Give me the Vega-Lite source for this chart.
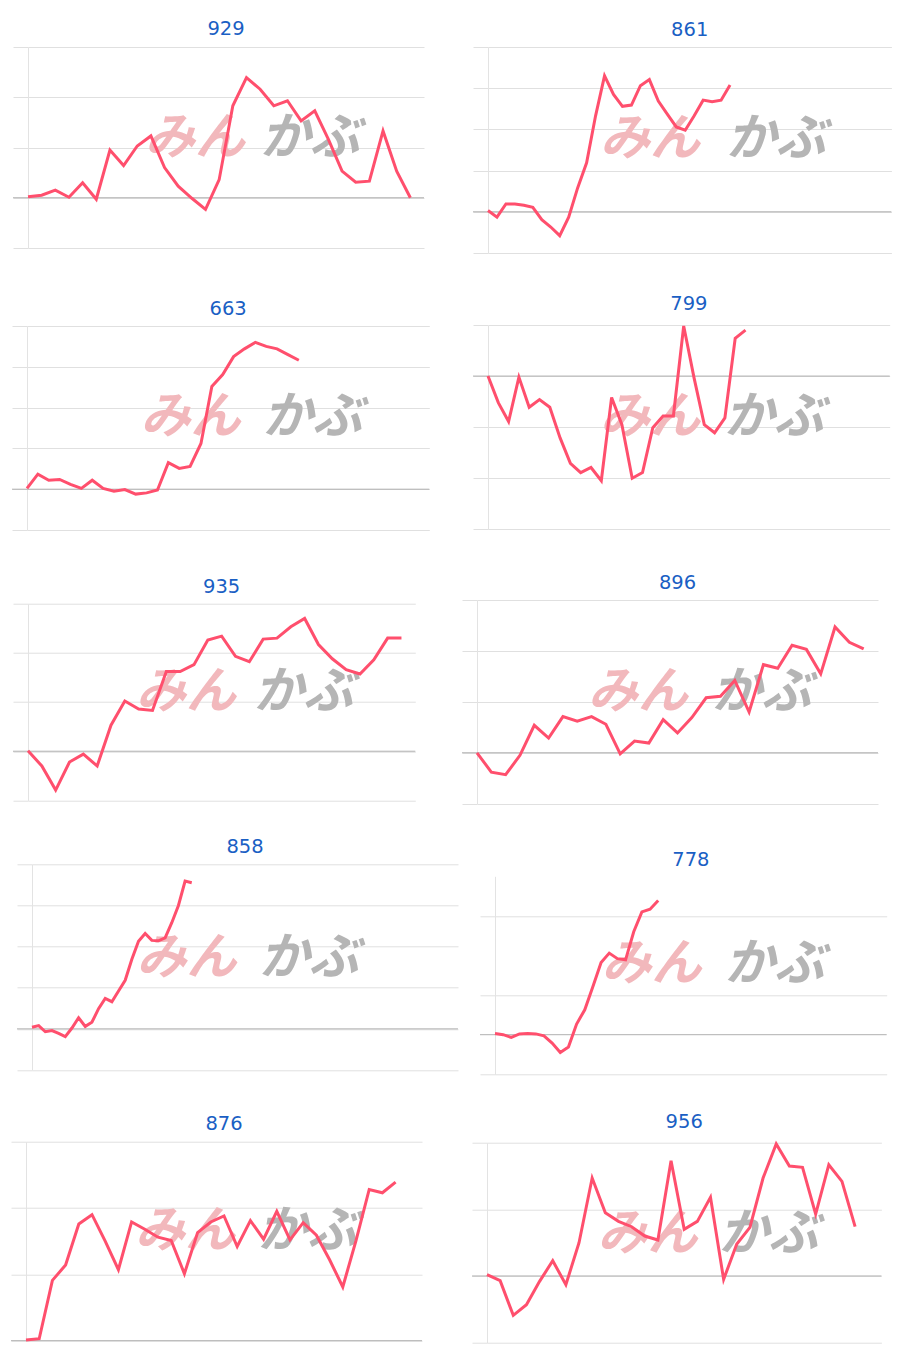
{
  "$schema": "https://vega.github.io/schema/vega-lite/v6.json",
  "padding": {"left": 9, "top": 19, "right": 0, "bottom": 0},
  "spacing": 1,
  "config": {
    "view": {"stroke": null},
    "title": {"font": "DejaVu Sans", "fontSize": 19.5, "fontWeight": "normal", "color": "#1a5fc4", "anchor": "middle", "frame": "group", "baseline": "bottom"},
    "line": {"stroke": "#ff4f6d", "strokeWidth": 3},
    "rule": {"stroke": "#b0b0b0", "strokeWidth": 1},
    "text": {"font": "Noto Sans CJK JP", "fontSize": 50, "fontWeight": "bold", "fontStyle": "italic", "align": "center", "baseline": "middle"},
    "axisY": {"title": null, "labels": false, "tickSize": 15, "domainColor": "#e3e3e3", "tickColor": "#e0e0e0", "gridColor": "#e0e0e0"}
  },
  "datasets": {
    "s929": [{"t":0,"v":0.02},{"t":1,"v":0.05},{"t":2,"v":0.15},{"t":3,"v":0.01},{"t":4,"v":0.30},{"t":5,"v":-0.03},{"t":6,"v":0.95},{"t":7,"v":0.64},{"t":8,"v":1.03},{"t":9,"v":1.23},{"t":10,"v":0.60},{"t":11,"v":0.23},{"t":12,"v":-0.01},{"t":13,"v":-0.23},{"t":14,"v":0.36},{"t":15,"v":1.83},{"t":16,"v":2.39},{"t":17,"v":2.16},{"t":18,"v":1.83},{"t":19,"v":1.93},{"t":20,"v":1.53},{"t":21,"v":1.73},{"t":22,"v":1.16},{"t":23,"v":0.53},{"t":24,"v":0.31},{"t":25,"v":0.33},{"t":26,"v":1.33},{"t":27,"v":0.53},{"t":28,"v":0.0}],
    "s861": [{"t":0,"v":0.03},{"t":1,"v":-0.13},{"t":2,"v":0.19},{"t":3,"v":0.19},{"t":4,"v":0.16},{"t":5,"v":0.11},{"t":6,"v":-0.19},{"t":7,"v":-0.37},{"t":8,"v":-0.58},{"t":9,"v":-0.13},{"t":10,"v":0.58},{"t":11,"v":1.19},{"t":12,"v":2.33},{"t":13,"v":3.30},{"t":14,"v":2.85},{"t":15,"v":2.56},{"t":16,"v":2.59},{"t":17,"v":3.06},{"t":18,"v":3.21},{"t":19,"v":2.69},{"t":20,"v":2.37},{"t":21,"v":2.06},{"t":22,"v":1.98},{"t":23,"v":2.33},{"t":24,"v":2.71},{"t":25,"v":2.67},{"t":26,"v":2.71},{"t":27,"v":3.08}],
    "s663": [{"t":0,"v":0.02},{"t":1,"v":0.37},{"t":2,"v":0.22},{"t":3,"v":0.24},{"t":4,"v":0.12},{"t":5,"v":0.02},{"t":6,"v":0.22},{"t":7,"v":0.02},{"t":8,"v":-0.05},{"t":9,"v":-0.01},{"t":10,"v":-0.12},{"t":11,"v":-0.09},{"t":12,"v":-0.02},{"t":13,"v":0.65},{"t":14,"v":0.51},{"t":15,"v":0.56},{"t":16,"v":1.12},{"t":17,"v":2.52},{"t":18,"v":2.81},{"t":19,"v":3.25},{"t":20,"v":3.44},{"t":21,"v":3.60},{"t":22,"v":3.50},{"t":23,"v":3.44},{"t":24,"v":3.30},{"t":25,"v":3.16}],
    "s799": [{"t":0,"v":0.0},{"t":1,"v":-0.52},{"t":2,"v":-0.89},{"t":3,"v":-0.02},{"t":4,"v":-0.61},{"t":5,"v":-0.46},{"t":6,"v":-0.61},{"t":7,"v":-1.21},{"t":8,"v":-1.71},{"t":9,"v":-1.89},{"t":10,"v":-1.79},{"t":11,"v":-2.05},{"t":12,"v":-0.42},{"t":13,"v":-0.95},{"t":14,"v":-2.00},{"t":15,"v":-1.89},{"t":16,"v":-1.01},{"t":17,"v":-0.78},{"t":18,"v":-0.78},{"t":19,"v":0.98},{"t":20,"v":-0.03},{"t":21,"v":-0.95},{"t":22,"v":-1.11},{"t":23,"v":-0.82},{"t":24,"v":0.74},{"t":25,"v":0.90}],
    "s935": [{"t":0,"v":0.01},{"t":1,"v":-0.30},{"t":2,"v":-0.79},{"t":3,"v":-0.22},{"t":4,"v":-0.06},{"t":5,"v":-0.30},{"t":6,"v":0.53},{"t":7,"v":1.02},{"t":8,"v":0.86},{"t":9,"v":0.83},{"t":10,"v":1.62},{"t":11,"v":1.62},{"t":12,"v":1.76},{"t":13,"v":2.26},{"t":14,"v":2.34},{"t":15,"v":1.93},{"t":16,"v":1.82},{"t":17,"v":2.28},{"t":18,"v":2.30},{"t":19,"v":2.53},{"t":20,"v":2.70},{"t":21,"v":2.17},{"t":22,"v":1.88},{"t":23,"v":1.66},{"t":24,"v":1.57},{"t":25,"v":1.86},{"t":26,"v":2.30},{"t":27,"v":2.30}],
    "s896": [{"t":0,"v":0.0},{"t":1,"v":-0.38},{"t":2,"v":-0.43},{"t":3,"v":-0.05},{"t":4,"v":0.54},{"t":5,"v":0.29},{"t":6,"v":0.71},{"t":7,"v":0.62},{"t":8,"v":0.71},{"t":9,"v":0.56},{"t":10,"v":-0.02},{"t":11,"v":0.23},{"t":12,"v":0.19},{"t":13,"v":0.65},{"t":14,"v":0.39},{"t":15,"v":0.69},{"t":16,"v":1.08},{"t":17,"v":1.11},{"t":18,"v":1.42},{"t":19,"v":0.80},{"t":20,"v":1.73},{"t":21,"v":1.66},{"t":22,"v":2.11},{"t":23,"v":2.03},{"t":24,"v":1.55},{"t":25,"v":2.47},{"t":26,"v":2.17},{"t":27,"v":2.04}],
    "s858": [{"t":0,"v":0.04},{"t":1,"v":0.08},{"t":2,"v":-0.07},{"t":3,"v":-0.04},{"t":4,"v":-0.11},{"t":5,"v":-0.19},{"t":6,"v":0.02},{"t":7,"v":0.27},{"t":8,"v":0.06},{"t":9,"v":0.16},{"t":10,"v":0.49},{"t":11,"v":0.74},{"t":12,"v":0.66},{"t":13,"v":0.92},{"t":14,"v":1.18},{"t":15,"v":1.69},{"t":16,"v":2.13},{"t":17,"v":2.32},{"t":18,"v":2.15},{"t":19,"v":2.14},{"t":20,"v":2.21},{"t":21,"v":2.58},{"t":22,"v":3.00},{"t":23,"v":3.59},{"t":24,"v":3.55}],
    "s778": [{"t":0,"v":0.03},{"t":1,"v":0.0},{"t":2,"v":-0.07},{"t":3,"v":0.02},{"t":4,"v":0.03},{"t":5,"v":0.02},{"t":6,"v":-0.03},{"t":7,"v":-0.21},{"t":8,"v":-0.45},{"t":9,"v":-0.31},{"t":10,"v":0.27},{"t":11,"v":0.63},{"t":12,"v":1.22},{"t":13,"v":1.82},{"t":14,"v":2.06},{"t":15,"v":1.92},{"t":16,"v":1.89},{"t":17,"v":2.6},{"t":18,"v":3.10},{"t":19,"v":3.17},{"t":20,"v":3.39}],
    "s876": [{"t":0,"v":0.01},{"t":1,"v":0.03},{"t":2,"v":0.91},{"t":3,"v":1.14},{"t":4,"v":1.76},{"t":5,"v":1.90},{"t":6,"v":1.50},{"t":7,"v":1.07},{"t":8,"v":1.79},{"t":9,"v":1.68},{"t":10,"v":1.56},{"t":11,"v":1.51},{"t":12,"v":1.01},{"t":13,"v":1.63},{"t":14,"v":1.79},{"t":15,"v":1.88},{"t":16,"v":1.42},{"t":17,"v":1.81},{"t":18,"v":1.53},{"t":19,"v":1.95},{"t":20,"v":1.52},{"t":21,"v":1.78},{"t":22,"v":1.59},{"t":23,"v":1.22},{"t":24,"v":0.81},{"t":25,"v":1.51},{"t":26,"v":2.28},{"t":27,"v":2.23},{"t":28,"v":2.39}],
    "s956": [{"t":0,"v":0.02},{"t":1,"v":-0.07},{"t":2,"v":-0.59},{"t":3,"v":-0.43},{"t":4,"v":-0.08},{"t":5,"v":0.23},{"t":6,"v":-0.13},{"t":7,"v":0.50},{"t":8,"v":1.47},{"t":9,"v":0.95},{"t":10,"v":0.82},{"t":11,"v":0.74},{"t":12,"v":0.60},{"t":13,"v":0.54},{"t":14,"v":1.73},{"t":15,"v":0.70},{"t":16,"v":0.82},{"t":17,"v":1.18},{"t":18,"v":-0.05},{"t":19,"v":0.48},{"t":20,"v":0.73},{"t":21,"v":1.47},{"t":22,"v":1.98},{"t":23,"v":1.65},{"t":24,"v":1.63},{"t":25,"v":0.93},{"t":26,"v":1.67},{"t":27,"v":1.42},{"t":28,"v":0.74}]
  },
  "hconcat": [
    {
      "spacing": 50,
      "vconcat": [
        {"spacing": 0, "hconcat": [
          {"width": 3, "height": 1, "data": {"values": []}, "mark": {"type": "rect"}, "encoding": {}},
          {"width": 396, "height": 201, "title": {"text": "929", "offset": 7}, "layer": [
            {"data": {"name": "s929"}, "mark": {"type": "line", "opacity": 0}, "encoding": {
              "x": {"field": "t", "type": "quantitative", "scale": {"domain": [0, 29], "nice": false, "zero": false}, "axis": null},
              "y": {"field": "v", "type": "quantitative", "scale": {"domain": [-1, 3], "nice": false, "zero": false}, "axis": {"values": [-1, 0, 1, 2, 3]}}}},
            {"data": {"values": [{"ref": "baseline"}]}, "mark": {"type": "rule"}, "encoding": {"x": {"datum": -1.098, "type": "quantitative"}, "x2": {"datum": 29}, "y": {"datum": 0, "type": "quantitative"}}},
            {"data": {"values": [{"logo": "みん"}]}, "mark": {"type": "text", "color": "#f2b8bc"}, "encoding": {"x": {"datum": 12.23, "type": "quantitative"}, "y": {"datum": 1.17, "type": "quantitative"}, "text": {"field": "logo", "type": "nominal"}}},
            {"data": {"values": [{"logo": "かぶ"}]}, "mark": {"type": "text", "color": "#b5b5b5"}, "encoding": {"x": {"datum": 20.65, "type": "quantitative"}, "y": {"datum": 1.17, "type": "quantitative"}, "text": {"field": "logo", "type": "nominal"}}},
            {"data": {"name": "s929"}, "mark": {"type": "line"}, "encoding": {"x": {"field": "t", "type": "quantitative"}, "y": {"field": "v", "type": "quantitative"}}}
          ]}
        ]},
        {"spacing": 45.7, "vconcat": [
          {"spacing": 0, "hconcat": [
            {"width": 2, "height": 1, "data": {"values": []}, "mark": {"type": "rect"}, "encoding": {}},
            {"width": 402.3, "height": 204, "title": {"text": "663", "offset": 6}, "layer": [
              {"data": {"name": "s663"}, "mark": {"type": "line", "opacity": 0}, "encoding": {
                "x": {"field": "t", "type": "quantitative", "scale": {"domain": [0, 37], "nice": false, "zero": false}, "axis": null},
                "y": {"field": "v", "type": "quantitative", "scale": {"domain": [-1, 4], "nice": false, "zero": false}, "axis": {"values": [-1, 0, 1, 2, 3, 4]}}}},
              {"data": {"values": [{"ref": "baseline"}]}, "mark": {"type": "rule"}, "encoding": {"x": {"datum": -1.380, "type": "quantitative"}, "x2": {"datum": 37}, "y": {"datum": 0, "type": "quantitative"}}},
              {"data": {"values": [{"logo": "みん"}]}, "mark": {"type": "text", "color": "#f2b8bc"}, "encoding": {"x": {"datum": 15.04, "type": "quantitative"}, "y": {"datum": 1.74, "type": "quantitative"}, "text": {"field": "logo", "type": "nominal"}}},
              {"data": {"values": [{"logo": "かぶ"}]}, "mark": {"type": "text", "color": "#b5b5b5"}, "encoding": {"x": {"datum": 26.26, "type": "quantitative"}, "y": {"datum": 1.74, "type": "quantitative"}, "text": {"field": "logo", "type": "nominal"}}},
              {"data": {"name": "s663"}, "mark": {"type": "line"}, "encoding": {"x": {"field": "t", "type": "quantitative"}, "y": {"field": "v", "type": "quantitative"}}}
            ]}
          ]},
          {"spacing": 35.6, "vconcat": [
            {"spacing": 0, "hconcat": [
              {"width": 3, "height": 1, "data": {"values": []}, "mark": {"type": "rect"}, "encoding": {}},
              {"width": 387.3, "height": 196.7, "title": {"text": "935", "offset": 6}, "layer": [
                {"data": {"name": "s935"}, "mark": {"type": "line", "opacity": 0}, "encoding": {
                  "x": {"field": "t", "type": "quantitative", "scale": {"domain": [0, 28], "nice": false, "zero": false}, "axis": null},
                  "y": {"field": "v", "type": "quantitative", "scale": {"domain": [-1, 3], "nice": false, "zero": false}, "axis": {"values": [-1, 0, 1, 2, 3]}}}},
                {"data": {"values": [{"ref": "baseline"}]}, "mark": {"type": "rule"}, "encoding": {"x": {"datum": -1.084, "type": "quantitative"}, "x2": {"datum": 28}, "y": {"datum": 0, "type": "quantitative"}}},
                {"data": {"values": [{"logo": "みん"}]}, "mark": {"type": "text", "color": "#f2b8bc"}, "encoding": {"x": {"datum": 11.42, "type": "quantitative"}, "y": {"datum": 1.18, "type": "quantitative"}, "text": {"field": "logo", "type": "nominal"}}},
                {"data": {"values": [{"logo": "かぶ"}]}, "mark": {"type": "text", "color": "#b5b5b5"}, "encoding": {"x": {"datum": 19.92, "type": "quantitative"}, "y": {"datum": 1.18, "type": "quantitative"}, "text": {"field": "logo", "type": "nominal"}}},
                {"data": {"name": "s935"}, "mark": {"type": "line"}, "encoding": {"x": {"field": "t", "type": "quantitative"}, "y": {"field": "v", "type": "quantitative"}}}
              ]}
            ]},
            {"spacing": 42.4, "vconcat": [
              {"spacing": 0, "hconcat": [
                {"width": 7, "height": 1, "data": {"values": []}, "mark": {"type": "rect"}, "encoding": {}},
                {"width": 426, "height": 205.7, "title": {"text": "858", "offset": 6}, "layer": [
                  {"data": {"name": "s858"}, "mark": {"type": "line", "opacity": 0}, "encoding": {
                    "x": {"field": "t", "type": "quantitative", "scale": {"domain": [0, 64], "nice": false, "zero": false}, "axis": null},
                    "y": {"field": "v", "type": "quantitative", "scale": {"domain": [-1, 4], "nice": false, "zero": false}, "axis": {"values": [-1, 0, 1, 2, 3, 4]}}}},
                  {"data": {"values": [{"ref": "baseline"}]}, "mark": {"type": "rule"}, "encoding": {"x": {"datum": -2.254, "type": "quantitative"}, "x2": {"datum": 64}, "y": {"datum": 0, "type": "quantitative"}}},
                  {"data": {"values": [{"logo": "みん"}]}, "mark": {"type": "text", "color": "#f2b8bc"}, "encoding": {"x": {"datum": 23.2, "type": "quantitative"}, "y": {"datum": 1.70, "type": "quantitative"}, "text": {"field": "logo", "type": "nominal"}}},
                  {"data": {"values": [{"logo": "かぶ"}]}, "mark": {"type": "text", "color": "#b5b5b5"}, "encoding": {"x": {"datum": 41.6, "type": "quantitative"}, "y": {"datum": 1.70, "type": "quantitative"}, "text": {"field": "logo", "type": "nominal"}}},
                  {"data": {"name": "s858"}, "mark": {"type": "line"}, "encoding": {"x": {"field": "t", "type": "quantitative"}, "y": {"field": "v", "type": "quantitative"}}}
                ]}
              ]},
              {"spacing": 0, "hconcat": [
                {"width": 1, "height": 1, "data": {"values": []}, "mark": {"type": "rect"}, "encoding": {}},
                {"width": 396, "height": 199, "title": {"text": "876", "offset": 7}, "layer": [
                  {"data": {"name": "s876"}, "mark": {"type": "line", "opacity": 0}, "encoding": {
                    "x": {"field": "t", "type": "quantitative", "scale": {"domain": [0, 30], "nice": false, "zero": false}, "axis": null},
                    "y": {"field": "v", "type": "quantitative", "scale": {"domain": [0, 3], "nice": false, "zero": false}, "axis": {"values": [0, 1, 2, 3]}}}},
                  {"data": {"values": [{"ref": "baseline"}]}, "mark": {"type": "rule"}, "encoding": {"x": {"datum": -1.136, "type": "quantitative"}, "x2": {"datum": 30}, "y": {"datum": 0, "type": "quantitative"}}},
                  {"data": {"values": [{"logo": "みん"}]}, "mark": {"type": "text", "color": "#f2b8bc"}, "encoding": {"x": {"datum": 12.05, "type": "quantitative"}, "y": {"datum": 1.64, "type": "quantitative"}, "text": {"field": "logo", "type": "nominal"}}},
                  {"data": {"values": [{"logo": "かぶ"}]}, "mark": {"type": "text", "color": "#b5b5b5"}, "encoding": {"x": {"datum": 21.33, "type": "quantitative"}, "y": {"datum": 1.64, "type": "quantitative"}, "text": {"field": "logo", "type": "nominal"}}},
                  {"data": {"name": "s876"}, "mark": {"type": "line"}, "encoding": {"x": {"field": "t", "type": "quantitative"}, "y": {"field": "v", "type": "quantitative"}}}
                ]}
              ]}
            ]}
          ]}
        ]}
      ]
    },
    {
      "spacing": 39,
      "vconcat": [
        {"spacing": 0, "hconcat": [
          {"width": 12, "height": 1, "data": {"values": []}, "mark": {"type": "rect"}, "encoding": {}},
          {"width": 403.4, "height": 206, "title": {"text": "861", "offset": 6}, "layer": [
            {"data": {"name": "s861"}, "mark": {"type": "line", "opacity": 0}, "encoding": {
              "x": {"field": "t", "type": "quantitative", "scale": {"domain": [0, 45], "nice": false, "zero": false}, "axis": null},
              "y": {"field": "v", "type": "quantitative", "scale": {"domain": [-1, 4], "nice": false, "zero": false}, "axis": {"values": [-1, 0, 1, 2, 3, 4]}}}},
            {"data": {"values": [{"ref": "baseline"}]}, "mark": {"type": "rule"}, "encoding": {"x": {"datum": -1.673, "type": "quantitative"}, "x2": {"datum": 45}, "y": {"datum": 0, "type": "quantitative"}}},
            {"data": {"values": [{"logo": "みん"}]}, "mark": {"type": "text", "color": "#f2b8bc"}, "encoding": {"x": {"datum": 18.07, "type": "quantitative"}, "y": {"datum": 1.75, "type": "quantitative"}, "text": {"field": "logo", "type": "nominal"}}},
            {"data": {"values": [{"logo": "かぶ"}]}, "mark": {"type": "text", "color": "#b5b5b5"}, "encoding": {"x": {"datum": 32.13, "type": "quantitative"}, "y": {"datum": 1.75, "type": "quantitative"}, "text": {"field": "logo", "type": "nominal"}}},
            {"data": {"name": "s861"}, "mark": {"type": "line"}, "encoding": {"x": {"field": "t", "type": "quantitative"}, "y": {"field": "v", "type": "quantitative"}}}
          ]}
        ]},
        {"spacing": 43, "vconcat": [
          {"spacing": 0, "hconcat": [
            {"width": 12, "height": 1, "data": {"values": []}, "mark": {"type": "rect"}, "encoding": {}},
            {"width": 401.7, "height": 204.3, "title": {"text": "799", "offset": 6}, "layer": [
              {"data": {"name": "s799"}, "mark": {"type": "line", "opacity": 0}, "encoding": {
                "x": {"field": "t", "type": "quantitative", "scale": {"domain": [0, 39], "nice": false, "zero": false}, "axis": null},
                "y": {"field": "v", "type": "quantitative", "scale": {"domain": [-3, 1], "nice": false, "zero": false}, "axis": {"values": [-3, -2, -1, 0, 1]}}}},
              {"data": {"values": [{"ref": "baseline"}]}, "mark": {"type": "rule"}, "encoding": {"x": {"datum": -1.456, "type": "quantitative"}, "x2": {"datum": 39}, "y": {"datum": 0, "type": "quantitative"}}},
              {"data": {"values": [{"logo": "みん"}]}, "mark": {"type": "text", "color": "#f2b8bc"}, "encoding": {"x": {"datum": 15.73, "type": "quantitative"}, "y": {"datum": -0.82, "type": "quantitative"}, "text": {"field": "logo", "type": "nominal"}}},
              {"data": {"values": [{"logo": "かぶ"}]}, "mark": {"type": "text", "color": "#b5b5b5"}, "encoding": {"x": {"datum": 27.77, "type": "quantitative"}, "y": {"datum": -0.82, "type": "quantitative"}, "text": {"field": "logo", "type": "nominal"}}},
              {"data": {"name": "s799"}, "mark": {"type": "line"}, "encoding": {"x": {"field": "t", "type": "quantitative"}, "y": {"field": "v", "type": "quantitative"}}}
            ]}
          ]},
          {"spacing": 44.3, "vconcat": [
            {"spacing": 0, "hconcat": [
              {"width": 1, "height": 1, "data": {"values": []}, "mark": {"type": "rect"}, "encoding": {}},
              {"width": 401, "height": 203.7, "title": {"text": "896", "offset": 6}, "layer": [
                {"data": {"name": "s896"}, "mark": {"type": "line", "opacity": 0}, "encoding": {
                  "x": {"field": "t", "type": "quantitative", "scale": {"domain": [0, 28], "nice": false, "zero": false}, "axis": null},
                  "y": {"field": "v", "type": "quantitative", "scale": {"domain": [-1, 3], "nice": false, "zero": false}, "axis": {"values": [-1, 0, 1, 2, 3]}}}},
                {"data": {"values": [{"ref": "baseline"}]}, "mark": {"type": "rule"}, "encoding": {"x": {"datum": -1.047, "type": "quantitative"}, "x2": {"datum": 28}, "y": {"datum": 0, "type": "quantitative"}}},
                {"data": {"values": [{"logo": "みん"}]}, "mark": {"type": "text", "color": "#f2b8bc"}, "encoding": {"x": {"datum": 11.24, "type": "quantitative"}, "y": {"datum": 1.18, "type": "quantitative"}, "text": {"field": "logo", "type": "nominal"}}},
                {"data": {"values": [{"logo": "かぶ"}]}, "mark": {"type": "text", "color": "#b5b5b5"}, "encoding": {"x": {"datum": 19.87, "type": "quantitative"}, "y": {"datum": 1.18, "type": "quantitative"}, "text": {"field": "logo", "type": "nominal"}}},
                {"data": {"name": "s896"}, "mark": {"type": "line"}, "encoding": {"x": {"field": "t", "type": "quantitative"}, "y": {"field": "v", "type": "quantitative"}}}
              ]}
            ]},
            {"spacing": 35.4, "vconcat": [
              {"spacing": 0, "hconcat": [
                {"width": 19, "height": 1, "data": {"values": []}, "mark": {"type": "rect"}, "encoding": {}},
                {"width": 391.7, "height": 198, "title": {"text": "778", "offset": 6}, "layer": [
                  {"data": {"name": "s778"}, "mark": {"type": "line", "opacity": 0}, "encoding": {
                    "x": {"field": "t", "type": "quantitative", "scale": {"domain": [0, 48], "nice": false, "zero": false}, "axis": null},
                    "y": {"field": "v", "type": "quantitative", "scale": {"domain": [-1, 4], "nice": false, "zero": false}, "axis": {"values": [-1, 0, 1, 2, 3, 4]}}}},
                  {"data": {"values": [{"ref": "baseline"}]}, "mark": {"type": "rule"}, "encoding": {"x": {"datum": -1.838, "type": "quantitative"}, "x2": {"datum": 48}, "y": {"datum": 0, "type": "quantitative"}}},
                  {"data": {"values": [{"logo": "みん"}]}, "mark": {"type": "text", "color": "#f2b8bc"}, "encoding": {"x": {"datum": 19.18, "type": "quantitative"}, "y": {"datum": 1.75, "type": "quantitative"}, "text": {"field": "logo", "type": "nominal"}}},
                  {"data": {"values": [{"logo": "かぶ"}]}, "mark": {"type": "text", "color": "#b5b5b5"}, "encoding": {"x": {"datum": 34.25, "type": "quantitative"}, "y": {"datum": 1.75, "type": "quantitative"}, "text": {"field": "logo", "type": "nominal"}}},
                  {"data": {"name": "s778"}, "mark": {"type": "line"}, "encoding": {"x": {"field": "t", "type": "quantitative"}, "y": {"field": "v", "type": "quantitative"}}}
                ]}
              ]},
              {"spacing": 0, "hconcat": [
                {"width": 11, "height": 1, "data": {"values": []}, "mark": {"type": "rect"}, "encoding": {}},
                {"width": 394.4, "height": 200, "title": {"text": "956", "offset": 6}, "layer": [
                  {"data": {"name": "s956"}, "mark": {"type": "line", "opacity": 0}, "encoding": {
                    "x": {"field": "t", "type": "quantitative", "scale": {"domain": [0, 30], "nice": false, "zero": false}, "axis": null},
                    "y": {"field": "v", "type": "quantitative", "scale": {"domain": [-1, 2], "nice": false, "zero": false}, "axis": {"values": [-1, 0, 1, 2]}}}},
                  {"data": {"values": [{"ref": "baseline"}]}, "mark": {"type": "rule"}, "encoding": {"x": {"datum": -1.141, "type": "quantitative"}, "x2": {"datum": 30}, "y": {"datum": 0, "type": "quantitative"}}},
                  {"data": {"values": [{"logo": "みん"}]}, "mark": {"type": "text", "color": "#f2b8bc"}, "encoding": {"x": {"datum": 12.21, "type": "quantitative"}, "y": {"datum": 0.61, "type": "quantitative"}, "text": {"field": "logo", "type": "nominal"}}},
                  {"data": {"values": [{"logo": "かぶ"}]}, "mark": {"type": "text", "color": "#b5b5b5"}, "encoding": {"x": {"datum": 21.41, "type": "quantitative"}, "y": {"datum": 0.61, "type": "quantitative"}, "text": {"field": "logo", "type": "nominal"}}},
                  {"data": {"name": "s956"}, "mark": {"type": "line"}, "encoding": {"x": {"field": "t", "type": "quantitative"}, "y": {"field": "v", "type": "quantitative"}}}
                ]}
              ]}
            ]}
          ]}
        ]}
      ]
    }
  ]
}
